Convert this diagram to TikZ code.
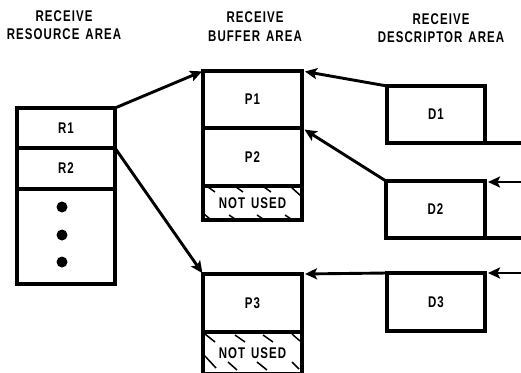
\documentclass[tikz,border=0pt]{standalone}
\usepackage{fontspec}
\setmainfont{Liberation Sans}[FakeStretch=0.74, LetterSpace=7, WordSpace=1.4]
\usetikzlibrary{arrows.meta}
\newcommand\mylbl{\fontsize{15.5}{18}\selectfont\bfseries}
\newcommand\myttl{\fontsize{15.5}{18.5}\selectfont\bfseries}
\begin{document}
\begin{tikzpicture}[x=1pt,y=-1pt,
  box/.style={draw, line width=3.4pt, outer sep=0pt, inner sep=0pt, font=\mylbl},
  arr/.style={line width=2.9pt, -{Stealth[length=12pt,width=11pt,inset=2.5pt]}},
  hatchline/.style={line width=1.5pt},
  title/.style={align=center, font=\myttl, inner sep=0pt}]
\clip (0,0) rectangle (521,372);
% titles
\node[title] (t1) at (64,25) {RECEIVE\\RESOURCE AREA};
\node[title] (t2) at (255,26.5) {RECEIVE\\BUFFER AREA};
\node[title] (t3) at (441,28) {RECEIVE\\DESCRIPTOR AREA};
% resource area
\node[box, minimum width=98pt, minimum height=40pt] (R1) at (66,128) {R1};
\node[box, minimum width=98pt, minimum height=41pt] (R2) at (66,168.5) {R2};
\node[box, minimum width=98pt, minimum height=95pt] (R3) at (66,236.5) {};
\fill (62,207) circle[radius=5.5pt];
\fill (62,235) circle[radius=5.5pt];
\fill (62,262) circle[radius=5.5pt];
% buffer area
\node[box, minimum width=99pt, minimum height=57pt] (P1) at (252.5,99.5) {P1};
\node[box, minimum width=99pt, minimum height=58pt] (P2) at (252.5,157) {P2};
\node[box, minimum width=99pt, minimum height=34pt] (N1) at (252.5,203) {NOT USED};
\node[box, minimum width=99pt, minimum height=58pt] (P3) at (252.5,303) {P3};
\node[box, minimum width=99pt, minimum height=42pt] (N2) at (252.5,353) {NOT USED};
% hatching of unused parts
\draw[hatchline] (208,187)--(215,192) (236,187)--(243,192) (264,187)--(271,192) (291,187)--(301,196)
  (204,214)--(210,219) (229,215)--(235,219) (257,215)--(263,219) (285,215)--(291,219);
\draw[hatchline] (205,334)--(215,342) (235,335)--(245,342) (263,335)--(273,342) (292,334)--(300,341)
  (204,355)--(216,368) (228,362)--(237,370) (257,362)--(267,370) (292,362)--(299,369);
% descriptor area
\node[box, minimum width=98pt, minimum height=57pt] (D1) at (436,114.5) {D1};
\node[box, minimum width=99pt, minimum height=57pt] (D2) at (435.5,209.5) {D2};
\node[box, minimum width=98pt, minimum height=58pt] (D3) at (436,302) {D3};
\coordinate (e1) at (522,143);
\coordinate (e2) at (522,238);
\coordinate (i2) at (522,182);
\coordinate (i3) at (522,273);
\draw[line width=3.4pt] (D1.south east) -- (e1);
\draw[line width=3.4pt] (D2.south east) -- (e2);
% arrows
\draw[arr, shorten >=1pt] (R1.north east) -- (P1.north west);
\draw[arr, shorten >=1pt] (R2.north east) -- (P3.north west);
\draw[arr, shorten >=3pt] (D1.north west) -- (P1.north east);
\draw[arr, shorten >=3pt] (D2.north west) -- (P2.north east);
\draw[arr, shorten >=3pt] (D3.north west) -- (P3.north east);
\draw[arr, shorten >=3pt] (i2) -- (i2 -| D2.east);
\draw[arr, shorten >=3pt] (i3) -- (i3 -| D3.east);
\end{tikzpicture}
\end{document}
